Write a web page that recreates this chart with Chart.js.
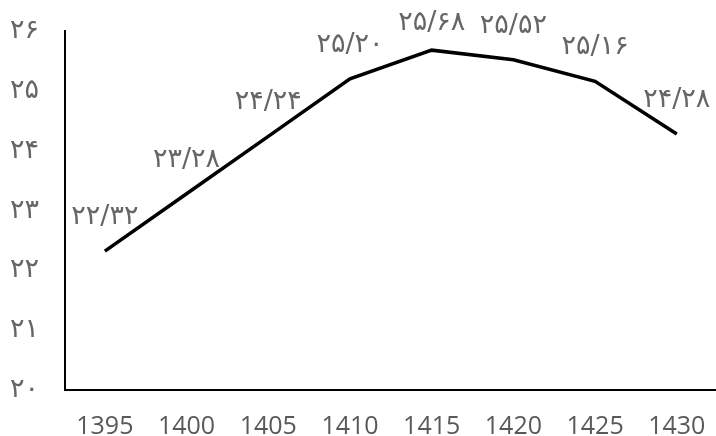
<!DOCTYPE html>
<html>
<head>
<meta charset="utf-8">
<script src="https://cdn.jsdelivr.net/npm/chart.js@4/dist/chart.umd.min.js"></script>
<style>
  html, body { margin: 0; padding: 0; background: #fff; }
  #wrap { width: 716px; height: 436px; }
</style>
</head>
<body>
<div id="wrap"><canvas id="chart" width="716" height="436"></canvas></div>
<script>
const years = [1395, 1400, 1405, 1410, 1415, 1420, 1425, 1430];
const values = [22.32, 23.28, 24.24, 25.20, 25.68, 25.52, 25.16, 24.28];
const yTicks = [20, 21, 22, 23, 24, 25, 26];

const faDigits = '۰۱۲۳۴۵۶۷۸۹';
// fa-IR excel uses "/" as the decimal mark
const toFa = (s) => String(s).replace(/[0-9]/g, d => faDigits[d]).replace('.', '/');
const textColor = '#595959';
const faColor = '#666666';
const faFont = '"DejaVu Sans", sans-serif';

// labels above each point, like excel data labels (kept inside the top edge)
const pointLabels = {
  id: 'pointLabels',
  afterDatasetsDraw(chart) {
    const ctx = chart.ctx;
    const meta = chart.getDatasetMeta(0);
    ctx.save();
    ctx.font = '27px ' + faFont;
    ctx.fillStyle = faColor;
    ctx.textAlign = 'center';
    ctx.textBaseline = 'middle';
    meta.data.forEach((pt, i) => {
      const y = Math.max(pt.y - 34, 23);
      ctx.fillText(toFa(values[i].toFixed(2)), pt.x, y);
    });
    ctx.restore();
  }
};

new Chart(document.getElementById('chart'), {
  type: 'line',
  data: {
    datasets: [{
      data: years.map((y, i) => ({ x: y, y: values[i] })),
      borderColor: '#000',
      borderWidth: 3.5,
      pointRadius: 0,
      tension: 0,
      fill: false
    }]
  },
  options: {
    responsive: false,
    animation: false,
    layout: { padding: { top: 31, right: 0, left: 0, bottom: 0 } },
    plugins: { legend: { display: false }, tooltip: { enabled: false } },
    scales: {
      x: {
        type: 'linear',
        min: 1392.56,
        max: 1432.4,
        afterBuildTicks: (axis) => { axis.ticks = years.map(v => ({ value: v })); },
        afterFit: (axis) => {
          axis.height = 46;
          axis.paddingLeft = 0;
          axis.paddingRight = 0;
        },
        grid: { display: false },
        border: { display: true, color: '#000', width: 2 },
        ticks: {
          color: textColor,
          font: { family: '"Open Sans", sans-serif', size: 25 },
          padding: 14,
          maxRotation: 0,
          callback: (v) => String(v)
        }
      },
      y: {
        min: 20,
        max: 26,
        afterBuildTicks: (axis) => { axis.ticks = yTicks.map(v => ({ value: v })); },
        afterFit: (axis) => {
          axis.width = 65;
          axis.paddingTop = 0;
          axis.paddingBottom = 0;
        },
        grid: { display: false },
        border: { display: true, color: '#000', width: 2 },
        ticks: {
          color: faColor,
          font: { family: faFont, size: 27 },
          padding: 18,
          callback: (v) => toFa(v)
        }
      }
    }
  },
  plugins: [pointLabels]
});
</script>
</body>
</html>
